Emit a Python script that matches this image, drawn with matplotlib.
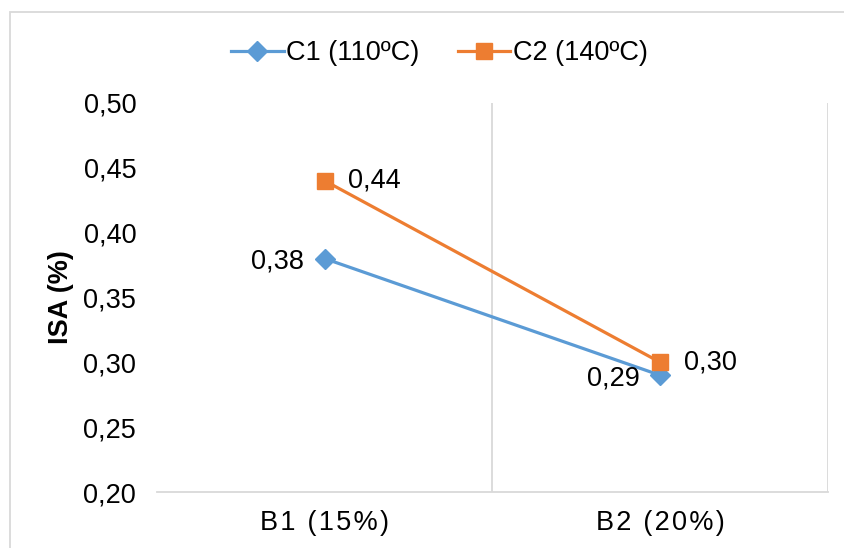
import matplotlib
matplotlib.use("Agg")
import matplotlib.pyplot as plt
from matplotlib.patches import Rectangle

plt.rcParams['font.family'] = ['Liberation Sans', 'DejaVu Sans']

# Data
categories = ["B1 (15%)", "B2 (20%)"]
c1_values = [0.38, 0.29]
c2_values = [0.44, 0.30]
series_names = ["C1 (110ºC)", "C2 (140ºC)"]
y_ticks = [0.20, 0.25, 0.30, 0.35, 0.40, 0.45, 0.50]

blue = "#5B9BD5"
orange = "#ED7D31"
grid_col = "#D9D9D9"
fs = 19.5

fig = plt.figure(figsize=(8.45, 5.48), dpi=100)
ax = fig.add_axes([157/845, 1 - 492/548, (828 - 157)/845, (492 - 103)/548])

x = list(range(len(categories)))
ax.plot(x, c1_values, color=blue, lw=2.3, marker="D", ms=10, label=series_names[0], zorder=3)
ax.plot(x, c2_values, color=orange, lw=2.3, marker="s", ms=11, label=series_names[1], zorder=4)

fmt = lambda v: f"{v:.2f}".replace(".", ",")
# data labels: C1 on the left, C2 on the right
for xi, v in zip(x, c1_values):
    ax.annotate(fmt(v), (xi, v), xytext=(-15, -2), textcoords="offset points",
                ha="right", va="center", fontsize=fs)
for xi, v in zip(x, c2_values):
    ax.annotate(fmt(v), (xi, v), xytext=(17, 0), textcoords="offset points",
                ha="left", va="center", fontsize=fs)

# excel-style letter spacing on the category labels
spaced = ["\u200a".join(c) for c in categories]

ax.set_xlim(-0.5, len(categories) - 0.5)
ax.set_ylim(0.20, 0.50)
ax.set_yticks(y_ticks)
ax.set_yticklabels([fmt(v) for v in y_ticks], fontsize=fs)
ax.set_xticks(x)
ax.set_xticklabels(spaced, fontsize=fs)
ax.tick_params(axis="both", length=0)
ax.tick_params(axis="y", pad=15)
ax.tick_params(axis="x", pad=13)

# category separators as vertical gridlines
for b in [0.5, 1.5]:
    ax.axvline(b, color=grid_col, lw=1.3, zorder=1)
for s in ["top", "right"]:
    ax.spines[s].set_visible(False)
ax.spines["left"].set_visible(False)
ax.spines["bottom"].set_color(grid_col)
ax.spines["bottom"].set_linewidth(1.3)

ax.set_ylabel("ISA (%)", fontsize=fs, fontweight="bold")
ax.yaxis.set_label_coords(-0.123, 0.5)

fig.legend(loc="center", bbox_to_anchor=(0.52, 0.903), ncol=2, frameon=False,
           fontsize=fs, handlelength=1.95, columnspacing=1.4, handletextpad=0.1)

# outer chart border (cropped on right and bottom)
fig.patches.append(Rectangle((10/845, -0.2), 1.2, 1.2 - 12/548, transform=fig.transFigure,
                             fill=False, edgecolor=grid_col, lw=1.3))

fig.savefig("out.png", dpi=100)
